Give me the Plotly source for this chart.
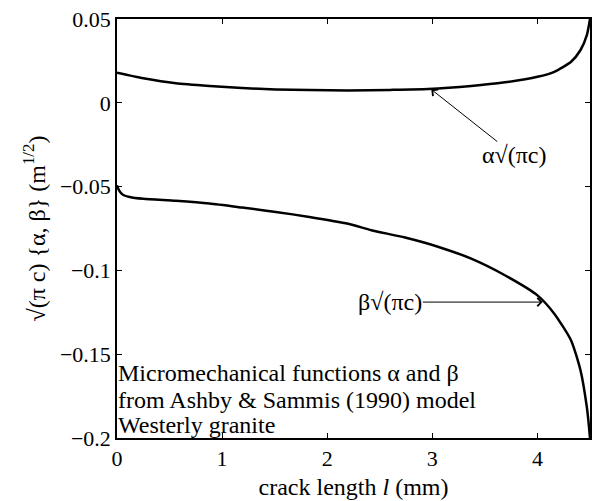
import plotly.graph_objects as go

# Data
alpha_x = [0.0, 0.25, 0.56, 0.88, 1.19, 1.51, 1.83, 2.2, 2.6, 2.96, 3.37, 3.69, 4.0, 4.16, 4.32, 4.41, 4.47, 4.5]
alpha_y = [0.0179, 0.0146, 0.0116, 0.0100, 0.0088, 0.0080, 0.0076, 0.0074, 0.0077, 0.0082, 0.0100, 0.0122, 0.0155, 0.0185, 0.0245, 0.0315, 0.0404, 0.05]

beta_x = [0.0, 0.01, 0.03, 0.06, 0.12, 0.25, 0.56, 0.88, 1.19, 1.51, 1.83, 2.2, 2.42, 2.74, 3.06, 3.37, 3.69, 4.0, 4.16, 4.32, 4.41, 4.47, 4.49, 4.5]
beta_y = [-0.0492, -0.0510, -0.0532, -0.0550, -0.0562, -0.0573, -0.0585, -0.0601, -0.0625, -0.0651, -0.0681, -0.0722, -0.0760, -0.0804, -0.0860, -0.0930, -0.1029, -0.1149, -0.1258, -0.1418, -0.1597, -0.1816, -0.193, -0.2]

x_ticks = [0, 1, 2, 3, 4]
y_ticks = [0.05, 0, -0.05, -0.1, -0.15, -0.2]
y_tick_text = ["0.05", "0", "−0.05", "−0.1", "−0.15", "−0.2"]

note_lines = ["Micromechanical functions α and β", "from Ashby & Sammis (1990) model", "Westerly granite"]
note_y = [-0.1615, -0.1776, -0.1925]

FONT = "Liberation Serif"

fig = go.Figure()
fig.add_trace(go.Scatter(x=alpha_x, y=alpha_y, mode="lines", line=dict(color="black", width=2.5, shape="spline", smoothing=0.6), showlegend=False))
fig.add_trace(go.Scatter(x=beta_x, y=beta_y, mode="lines", line=dict(color="black", width=2.5, shape="spline", smoothing=0.6), showlegend=False))

# labels with arrows
fig.add_annotation(x=2.99, y=0.008, ax=3.78, ay=-0.0312, xref="x", yref="y", axref="x", ayref="y",
                   text="α√(πc)", showarrow=True, arrowhead=4, arrowsize=1.6, arrowwidth=1, arrowcolor="black",
                   borderpad=0, font=dict(family=FONT, size=24, color="black"))
fig.add_annotation(x=4.05, y=-0.1189, ax=2.60, ay=-0.1189, xref="x", yref="y", axref="x", ayref="y",
                   text="β√(πc)", showarrow=True, arrowhead=4, arrowsize=1.6, arrowwidth=1, arrowcolor="black",
                   borderpad=0, font=dict(family=FONT, size=24, color="black"))
for txt, yv in zip(note_lines, note_y):
    fig.add_annotation(x=0, y=yv, xref="x", yref="y", xanchor="left", yanchor="middle", align="left",
                       text=txt, showarrow=False, borderpad=0, font=dict(family=FONT, size=24, color="black"))

axis_common = dict(showgrid=False, zeroline=False, showline=True, linecolor="black", linewidth=1.5,
                   mirror="ticks", ticks="inside", ticklen=5, tickwidth=1, tickcolor="black",
                   tickfont=dict(family=FONT, size=22, color="black"))

fig.update_xaxes(range=[0, 4.5], tickvals=x_ticks, ticktext=[str(v) for v in x_ticks],
                 title=dict(text="crack length <i>l</i> (mm)", font=dict(family=FONT, size=24, color="black"), standoff=8),
                 **axis_common)
fig.update_yaxes(range=[-0.2, 0.05], tickvals=y_ticks, ticktext=y_tick_text,
                 title=dict(text="√(π c) {α, β} (m<sup>1/2</sup>)", font=dict(family=FONT, size=24, color="black"), standoff=8),
                 **axis_common)

fig.update_layout(width=592, height=501, margin=dict(l=117, r=0, t=19, b=63),
                  plot_bgcolor="white", paper_bgcolor="white", font=dict(family=FONT, color="black"))

fig.write_html("out.html")
